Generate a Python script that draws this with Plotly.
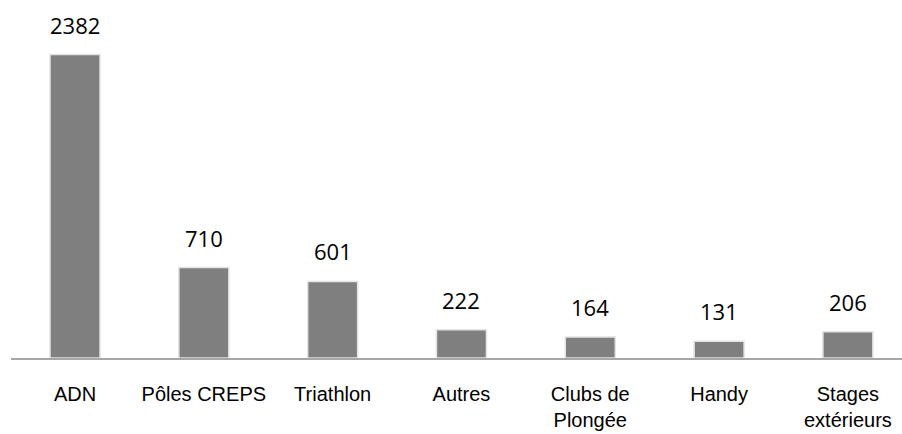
import plotly.graph_objects as go

categories = ["ADN", "Pôles CREPS", "Triathlon", "Autres", "Clubs de<br>Plongée", "Handy", "Stages<br>extérieurs"]
values = [2382, 710, 601, 222, 164, 131, 206]

fig = go.Figure()
fig.add_trace(go.Bar(
    x=list(range(len(categories))),
    y=values,
    marker=dict(color="#7f7f7f", line=dict(color="#e3e3e3", width=1.5)),
    hoverinfo="skip",
))

for i, v in enumerate(values):
    fig.add_annotation(
        x=i, y=v, text=str(v), showarrow=False,
        yanchor="bottom", yshift=13,
        font=dict(family="Open Sans, Noto Sans, sans-serif", size=22, color="#000000"),
    )

fig.update_layout(
    width=902, height=434,
    margin=dict(l=11, r=0, t=20, b=76),
    paper_bgcolor="white", plot_bgcolor="white",
    bargap=0.612,
    showlegend=False,
    xaxis=dict(
        range=[-0.497, 6.42],
        tickmode="array",
        tickvals=list(range(len(categories))),
        ticktext=categories,
        showline=True, linecolor="#a6a6a6", linewidth=1.5,
        showgrid=False, zeroline=False, ticks="",
        tickfont=dict(family="Liberation Sans, Arial, sans-serif", size=20, color="#000000"),
        ticklabelstandoff=17,
    ),
    yaxis=dict(range=[0, 2653], visible=False, showgrid=False, zeroline=False),
)

fig.write_html(
    "out.html",
    config={"displayModeBar": False},
    post_script="document.body.style.margin='0';document.body.style.overflow='hidden';",
)
